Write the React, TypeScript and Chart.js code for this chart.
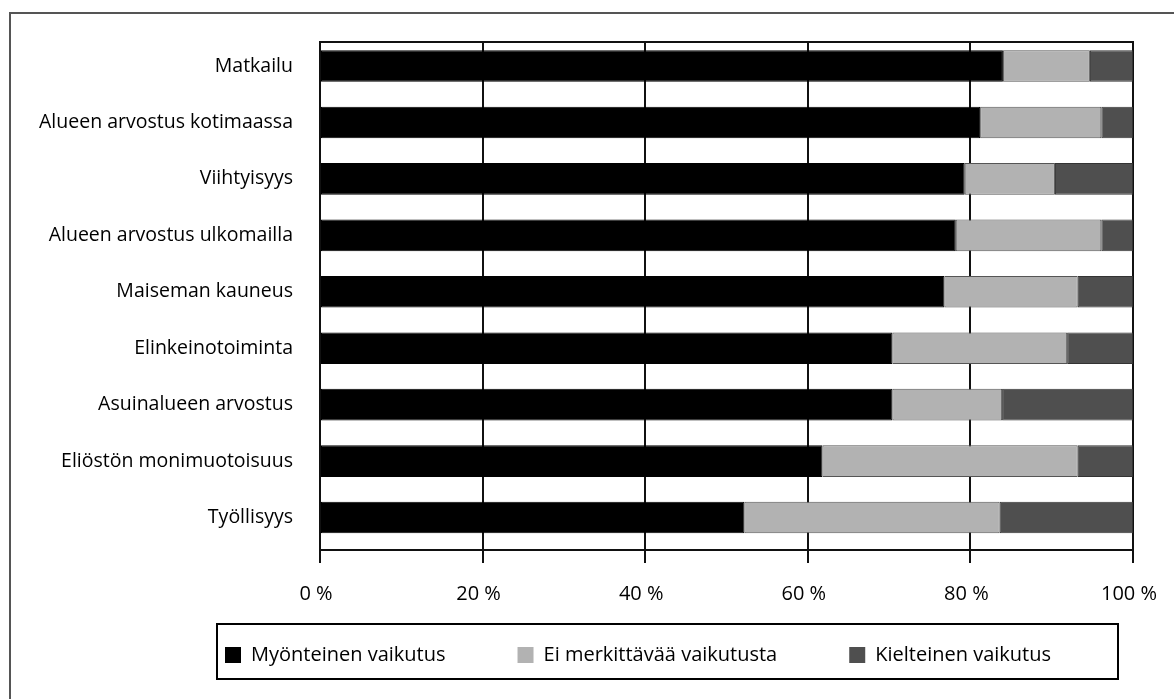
import { useEffect, useRef } from "react";
import { Chart, registerables } from "chart.js";

Chart.register(...registerables);

const categories = [
  "Matkailu",
  "Alueen arvostus kotimaassa",
  "Viihtyisyys",
  "Alueen arvostus ulkomailla",
  "Maiseman kauneus",
  "Elinkeinotoiminta",
  "Asuinalueen arvostus",
  "Eliöstön monimuotoisuus",
  "Työllisyys",
];

const seriesNames = ["Myönteinen vaikutus", "Ei merkittävää vaikutusta", "Kielteinen vaikutus"];

const positive = [84.0, 81.2, 79.3, 78.2, 76.8, 70.4, 70.4, 61.8, 52.2];
const neutral = [10.7, 14.9, 11.1, 17.9, 16.4, 21.5, 13.5, 31.4, 31.4];
const negative = [5.3, 3.9, 9.6, 3.9, 6.8, 8.1, 16.1, 6.8, 16.4];

const xTickUnit = " %";

const FONT = "'Open Sans', sans-serif";
const LEGEND_PAD = 72;

const decorPlugin = {
  id: "decor",
  afterLayout(chart: any) {
    const lg = chart.legend;
    if (!lg) return;
    const dy = -32;
    const dx = 225 - (lg.left + LEGEND_PAD);
    lg.top += dy;
    lg.bottom += dy;
    lg.left += dx;
    lg.right += dx;
  },
  beforeDraw(chart: any) {
    const ctx = chart.ctx;
    ctx.save();
    ctx.fillStyle = "#ffffff";
    ctx.fillRect(0, 0, chart.width, chart.height);
    ctx.strokeStyle = "#555555";
    ctx.lineWidth = 2;
    ctx.strokeRect(10, 13, 3000, 3000);
    ctx.restore();
  },
  afterDatasetsDraw(chart: any) {
    const { ctx, chartArea } = chart;
    ctx.save();
    ctx.strokeStyle = "#111111";
    ctx.lineWidth = 2;
    ctx.beginPath();
    ctx.moveTo(chartArea.left - 1, chartArea.top);
    ctx.lineTo(chartArea.right + 1, chartArea.top);
    ctx.stroke();
    ctx.restore();
  },
  afterDraw(chart: any) {
    const ctx = chart.ctx;
    ctx.save();
    ctx.strokeStyle = "#000000";
    ctx.lineWidth = 2;
    ctx.strokeRect(217, 624, 901, 55);
    ctx.restore();
  },
};

export default function App() {
  const ref = useRef<HTMLCanvasElement>(null);

  useEffect(() => {
    if (!ref.current) return;
    const colors = ["#000000", "#b2b2b2", "#4f4f4f"];
    const borders = ["#000000", "#555555", "#333333"];
    const values = [positive, neutral, negative];
    const chart = new Chart(ref.current, {
      type: "bar",
      data: {
        datasets: seriesNames.map((name, i) => ({
          label: name,
          data: values[i].map((v, j) => ({ x: v, y: j })),
          backgroundColor: colors[i],
          borderColor: borders[i],
          borderWidth: 1,
          borderSkipped: false,
          barPercentage: 0.56,
          categoryPercentage: 1,
        })),
      },
      options: {
        indexAxis: "y",
        responsive: false,
        animation: false,
        devicePixelRatio: 1,
        layout: { padding: { left: 0, right: 41, top: 42, bottom: -8 } },
        scales: {
          x: {
            type: "linear",
            stacked: true,
            min: 0,
            max: 100,
            ticks: {
              stepSize: 20,
              color: "#000",
              padding: 19,
              labelOffset: -4,
              font: { family: FONT, size: 20 },
              callback: (v: any) => `${v}${xTickUnit}`,
            },
            grid: { color: "#111111", lineWidth: 2, tickLength: 13, tickColor: "#111111" },
            border: { display: true, color: "#111111", width: 2 },
            afterFit: (scale: any) => {
              scale.height = 55;
              scale.paddingLeft = 0;
              scale.paddingRight = 0;
            },
          },
          y: {
            type: "linear",
            stacked: true,
            reverse: true,
            offset: false,
            min: -0.425,
            max: categories.length - 0.425,
            afterBuildTicks: (scale: any) => {
              scale.ticks = categories.map((_, i) => ({ value: i }));
            },
            ticks: {
              color: "#000",
              padding: 27,
              font: { family: FONT, size: 19.5 },
              autoSkip: false,
              callback: (v: any) => categories[v] ?? "",
            },
            grid: { display: false, drawTicks: false },
            border: { display: true, color: "#111111", width: 2 },
            afterFit: (scale: any) => {
              scale.width = 320;
              scale.paddingTop = 0;
              scale.paddingBottom = 0;
            },
          },
        },
        plugins: {
          legend: {
            position: "bottom",
            align: "start",
            labels: {
              boxWidth: 16,
              boxHeight: 16,
              padding: LEGEND_PAD,
              color: "#000",
              font: { family: FONT, size: 20 },
              generateLabels: (c: any) =>
                Chart.defaults.plugins.legend.labels.generateLabels(c).map((l: any) => ({
                  ...l,
                  lineWidth: 0,
                })),
            },
          },
          tooltip: { enabled: false },
        },
      },
      plugins: [decorPlugin],
    });
    return () => chart.destroy();
  }, []);

  return (
    <canvas
      ref={ref}
      width={1174}
      height={699}
      style={{ position: "absolute", left: 0, top: 0, width: 1174, height: 699 }}
    />
  );
}
